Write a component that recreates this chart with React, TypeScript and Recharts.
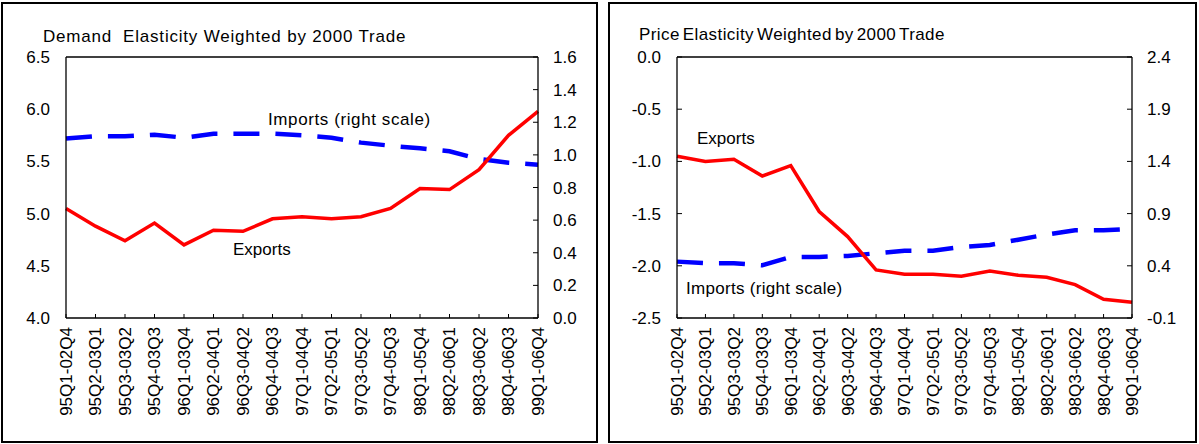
import React from 'react';
import { LineChart, Line, XAxis, YAxis, ReferenceLine } from 'recharts';

// Rolling estimation windows (one per point)
const periods = [
  '95Q1-02Q4', '95Q2-03Q1', '95Q3-03Q2', '95Q4-03Q3', '96Q1-03Q4', '96Q2-04Q1',
  '96Q3-04Q2', '96Q4-04Q3', '97Q1-04Q4', '97Q2-05Q1', '97Q3-05Q2', '97Q4-05Q3',
  '98Q1-05Q4', '98Q2-06Q1', '98Q3-06Q2', '98Q4-06Q3', '99Q1-06Q4',
];

// Demand elasticity (left panel)
const demandExports = [5.05, 4.88, 4.74, 4.91, 4.7, 4.84, 4.83, 4.95, 4.97, 4.95, 4.97, 5.05, 5.24, 5.23, 5.42, 5.75, 5.98];
const demandImports = [1.1, 1.114, 1.114, 1.124, 1.105, 1.13, 1.13, 1.13, 1.12, 1.105, 1.075, 1.056, 1.04, 1.022, 0.975, 0.952, 0.94];

// Price elasticity (right panel)
const priceExports = [-0.95, -1.0, -0.98, -1.14, -1.04, -1.48, -1.72, -2.04, -2.08, -2.08, -2.1, -2.05, -2.09, -2.11, -2.18, -2.32, -2.35];
const priceImports = [0.44, 0.425, 0.425, 0.405, 0.485, 0.485, 0.495, 0.52, 0.545, 0.545, 0.58, 0.6, 0.65, 0.7, 0.74, 0.74, 0.755];

// Axis ticks
const demandLeftTicks = [4.0, 4.5, 5.0, 5.5, 6.0, 6.5];
const demandRightTicks = [0.0, 0.2, 0.4, 0.6, 0.8, 1.0, 1.2, 1.4, 1.6];
const priceLeftTicks = [-2.5, -2.0, -1.5, -1.0, -0.5, 0.0];
const priceRightTicks = [-0.1, 0.4, 0.9, 1.4, 1.9, 2.4];

const demandData = periods.map((p, i) => ({ period: p, exports: demandExports[i], imports: demandImports[i] }));
const priceData = periods.map((p, i) => ({ period: p, exports: priceExports[i], imports: priceImports[i] }));

const FONT = '"Liberation Sans", Arial, sans-serif';
const fmt = (v: number) => v.toFixed(1);

// rotated category label, reads bottom to top
const PeriodTick = ({ x, y, payload }: any) => (
  <text
    x={x}
    y={y}
    transform={`rotate(-90, ${x}, ${y})`}
    textAnchor="end"
    dy="0.35em"
    fontSize={17}
    fontFamily={FONT}
    fill="#000"
  >
    {payload.value}
  </text>
);

const tickStyle = { fontSize: 17, fontFamily: FONT, fill: '#000' };

interface PanelProps {
  data: any[];
  left: number;
  width: number;
  marginLeft: number;
  marginRight: number;
  leftTicks: number[];
  rightTicks: number[];
  leftTickLine: boolean;
}

const Panel: React.FC<PanelProps> = ({ data, left, width, marginLeft, marginRight, leftTicks, rightTicks, leftTickLine }) => (
  <div style={{ position: 'absolute', left, top: 0 }}>
    <LineChart width={width} height={444} data={data} margin={{ top: 57, right: marginRight, left: marginLeft, bottom: 16 }}>
      <XAxis
        dataKey="period"
        interval={0}
        height={110}
        tick={<PeriodTick />}
        tickSize={-4}
        tickMargin={13}
        axisLine={{ stroke: '#000', strokeWidth: 1.3 }}
        tickLine={{ stroke: '#000' }}
      />
      <YAxis
        yAxisId="left"
        orientation="left"
        width={50}
        domain={[leftTicks[0], leftTicks[leftTicks.length - 1]]}
        ticks={leftTicks}
        tickFormatter={fmt}
        tick={tickStyle}
        tickSize={-5}
        tickMargin={21}
        tickLine={leftTickLine ? { stroke: '#000' } : false}
        axisLine={{ stroke: '#000', strokeWidth: 1.3 }}
        allowDataOverflow
      />
      <YAxis
        yAxisId="right"
        orientation="right"
        width={50}
        domain={[rightTicks[0], rightTicks[rightTicks.length - 1]]}
        ticks={rightTicks}
        tickFormatter={fmt}
        tick={tickStyle}
        tickSize={-5}
        tickMargin={20}
        tickLine={{ stroke: '#000' }}
        axisLine={{ stroke: '#000', strokeWidth: 1.3 }}
        allowDataOverflow
      />
      <ReferenceLine yAxisId="left" y={leftTicks[leftTicks.length - 1]} stroke="#000" strokeWidth={1.3} />
      <Line
        yAxisId="right"
        type="linear"
        dataKey="imports"
        stroke="#0000ff"
        strokeWidth={4.5}
        strokeDasharray="26 16"
        dot={false}
        isAnimationActive={false}
      />
      <Line
        yAxisId="left"
        type="linear"
        dataKey="exports"
        stroke="#ff0000"
        strokeWidth={3.5}
        dot={false}
        isAnimationActive={false}
      />
    </LineChart>
  </div>
);

const App: React.FC = () => {
  const textProps = { fontSize: 17, fontFamily: FONT, fill: '#000', style: { whiteSpace: 'pre' as const } };
  return (
    <div style={{ position: 'absolute', left: 0, top: 0, width: 1199, height: 444, background: '#fff', overflow: 'hidden' }}>
      <div style={{ position: 'absolute', left: 1, top: 2, width: 597, height: 441, border: '2px solid #000', boxSizing: 'border-box' }} />
      <div style={{ position: 'absolute', left: 608, top: 2, width: 589, height: 441, border: '2px solid #000', boxSizing: 'border-box' }} />

      <Panel
        data={demandData}
        left={0}
        width={600}
        marginLeft={16}
        marginRight={12}
        leftTicks={demandLeftTicks}
        rightTicks={demandRightTicks}
        leftTickLine={false}
      />
      <Panel
        data={priceData}
        left={600}
        width={599}
        marginLeft={27}
        marginRight={17}
        leftTicks={priceLeftTicks}
        rightTicks={priceRightTicks}
        leftTickLine
      />

      <svg width={1199} height={444} style={{ position: 'absolute', left: 0, top: 0, pointerEvents: 'none' }}>
        <text x={43} y={42} {...textProps} letterSpacing={0.8}>{'Demand  Elasticity Weighted by 2000 Trade'}</text>
        <text x={268} y={125} {...textProps} letterSpacing={0.6}>Imports (right scale)</text>
        <text x={233} y={255} {...textProps}>Exports</text>

        <text x={639} y={40} {...textProps} letterSpacing={0.4} wordSpacing={-2}>Price Elasticity Weighted by 2000 Trade</text>
        <text x={697} y={144} {...textProps}>Exports</text>
        <text x={686} y={294} {...textProps} letterSpacing={0.3}>Imports (right scale)</text>
      </svg>
    </div>
  );
};

export default App;
